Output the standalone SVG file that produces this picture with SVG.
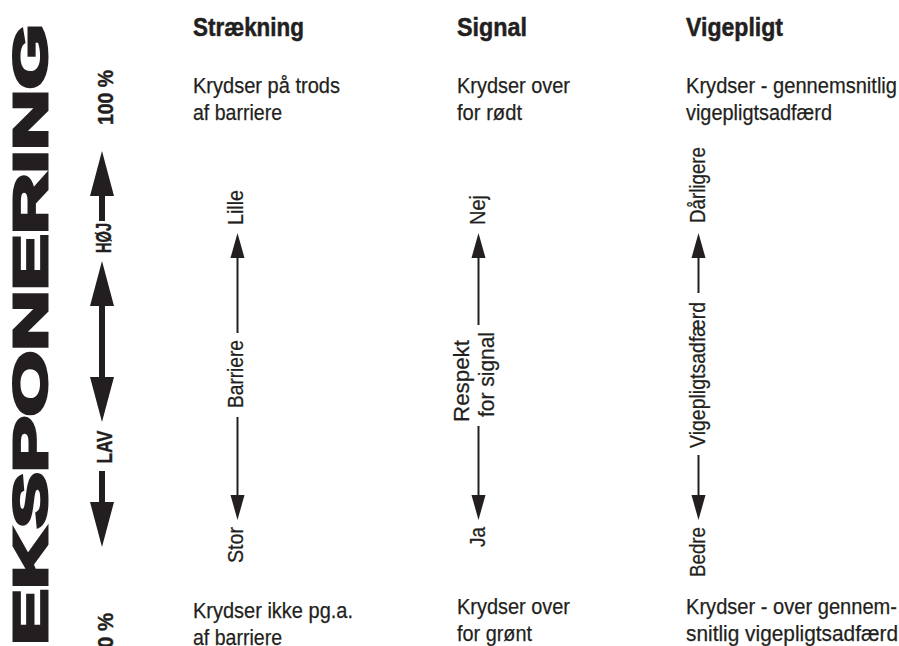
<svg xmlns="http://www.w3.org/2000/svg" width="899" height="646" viewBox="0 0 899 646">
<style>
text{fill:#231f20;font-family:"Liberation Sans",Arial,sans-serif}
.big{font-weight:bold;font-size:49px;stroke:#231f20;stroke-width:3;stroke-linejoin:miter}
.h{font-weight:bold;font-size:26px;stroke:#231f20;stroke-width:0.5}
.b{font-size:22px;stroke:#231f20;stroke-width:0.25}
.v{font-size:22px;text-anchor:middle;stroke:#231f20;stroke-width:0.25}
.lab{font-weight:bold;font-size:22px;text-anchor:middle;stroke:#231f20;stroke-width:0.4}
.thin{stroke:#231f20;stroke-width:2;fill:none}
.thick{stroke:#231f20;stroke-width:6;fill:none}
</style>
<defs>
<marker id="ah" markerUnits="userSpaceOnUse" markerWidth="26" markerHeight="16" viewBox="0 -8 26 16" refX="0" refY="0" orient="auto"><path d="M0,-7 L25,0 L0,7 Z" fill="#231f20"/></marker>
<marker id="AH" markerUnits="userSpaceOnUse" markerWidth="46" markerHeight="26" viewBox="0 -13 46 26" refX="0" refY="0" orient="auto"><path d="M0,-12 L45,0 L0,12 Z" fill="#231f20"/></marker>
</defs>
<g id="title">
<text class="big" transform="translate(47,645) rotate(-90)" textLength="621" lengthAdjust="spacingAndGlyphs">EKSPONERING</text>
</g>
<g id="scale">
<text class="lab" transform="translate(113,97.5) rotate(-90)" textLength="55" lengthAdjust="spacingAndGlyphs">100 %</text>
<text class="lab" transform="translate(111,238) rotate(-90)" textLength="30" lengthAdjust="spacingAndGlyphs">HØJ</text>
<text class="lab" transform="translate(112,447) rotate(-90)" textLength="33" lengthAdjust="spacingAndGlyphs">LAV</text>
<text class="lab" transform="translate(113,630.5) rotate(-90)" textLength="35" lengthAdjust="spacingAndGlyphs">0 %</text>
</g>
<g id="col-straekning">
<text class="h" x="193" y="36" textLength="111" lengthAdjust="spacingAndGlyphs">Strækning</text>
<text class="b" x="193" y="93" textLength="147" lengthAdjust="spacingAndGlyphs">Krydser på trods</text>
<text class="b" x="193" y="120" textLength="89" lengthAdjust="spacingAndGlyphs">af barriere</text>
<text class="v" transform="translate(243,207.5) rotate(-90)" textLength="35" lengthAdjust="spacingAndGlyphs">Lille</text>
<text class="v" transform="translate(243,374) rotate(-90)" textLength="68" lengthAdjust="spacingAndGlyphs">Barriere</text>
<text class="v" transform="translate(243,545) rotate(-90)" textLength="36" lengthAdjust="spacingAndGlyphs">Stor</text>
<text class="b" x="193" y="618" textLength="160" lengthAdjust="spacingAndGlyphs">Krydser ikke pg.a.</text>
<text class="b" x="193" y="645" textLength="89" lengthAdjust="spacingAndGlyphs">af barriere</text>
</g>
<g id="col-signal">
<text class="h" x="457" y="36" textLength="70" lengthAdjust="spacingAndGlyphs">Signal</text>
<text class="b" x="457" y="93" textLength="113" lengthAdjust="spacingAndGlyphs">Krydser over</text>
<text class="b" x="457" y="120" textLength="65" lengthAdjust="spacingAndGlyphs">for rødt</text>
<text class="v" transform="translate(485,210) rotate(-90)" textLength="30" lengthAdjust="spacingAndGlyphs">Nej</text>
<text class="v" transform="translate(469,381) rotate(-90)" textLength="82" lengthAdjust="spacingAndGlyphs">Respekt</text>
<text class="v" transform="translate(494,374.5) rotate(-90)" textLength="85" lengthAdjust="spacingAndGlyphs">for signal</text>
<text class="v" transform="translate(485,537) rotate(-90)" textLength="20" lengthAdjust="spacingAndGlyphs">Ja</text>
<text class="b" x="457" y="614" textLength="113" lengthAdjust="spacingAndGlyphs">Krydser over</text>
<text class="b" x="457" y="641" textLength="75" lengthAdjust="spacingAndGlyphs">for grønt</text>
</g>
<g id="col-vigepligt">
<text class="h" x="686" y="36" textLength="97" lengthAdjust="spacingAndGlyphs">Vigepligt</text>
<text class="b" x="686" y="93" textLength="211" lengthAdjust="spacingAndGlyphs">Krydser - gennemsnitlig</text>
<text class="b" x="686" y="120" textLength="146" lengthAdjust="spacingAndGlyphs">vigepligtsadfærd</text>
<text class="v" transform="translate(705,185) rotate(-90)" textLength="76" lengthAdjust="spacingAndGlyphs">Dårligere</text>
<text class="v" transform="translate(705,375) rotate(-90)" textLength="146" lengthAdjust="spacingAndGlyphs">Vigepligtsadfærd</text>
<text class="v" transform="translate(705,552) rotate(-90)" textLength="50" lengthAdjust="spacingAndGlyphs">Bedre</text>
<text class="b" x="686" y="614" textLength="211" lengthAdjust="spacingAndGlyphs">Krydser - over gennem-</text>
<text class="b" x="686" y="641" textLength="212" lengthAdjust="spacingAndGlyphs">snitlig vigepligtsadfærd</text>
</g>
<g id="connectors">
<path class="thick" d="M102,221 V196" marker-end="url(#AH)"/>
<path class="thick" d="M102,340 V306" marker-end="url(#AH)"/>
<path class="thick" d="M102,340 V377" marker-end="url(#AH)"/>
<path class="thick" d="M102,471 V502" marker-end="url(#AH)"/>
<path class="thin" d="M237.5,333 V258" marker-end="url(#ah)"/>
<path class="thin" d="M237.5,417 V495" marker-end="url(#ah)"/>
<path class="thin" d="M478.5,325 V258" marker-end="url(#ah)"/>
<path class="thin" d="M478.5,426 V495" marker-end="url(#ah)"/>
<path class="thin" d="M698.5,293 V258" marker-end="url(#ah)"/>
<path class="thin" d="M698.5,455 V495" marker-end="url(#ah)"/>
</g>
</svg>
